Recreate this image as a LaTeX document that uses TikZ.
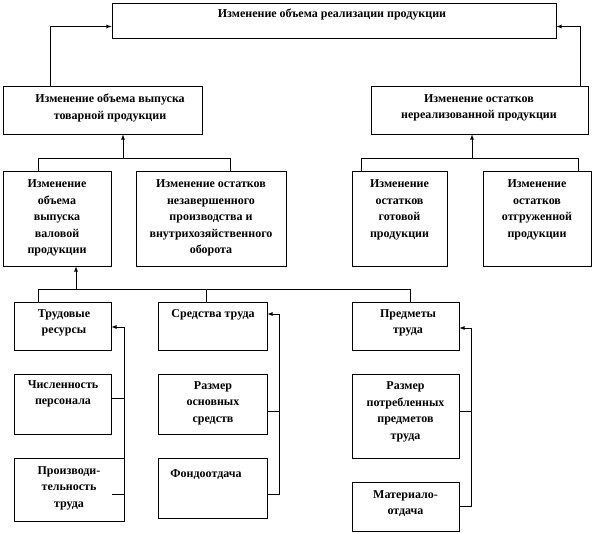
\documentclass[tikz,border=0pt]{standalone}
\usepackage{fontspec}
\setmainfont{Liberation Serif}
\usepackage{tikz}
\usetikzlibrary{arrows}
\usetikzlibrary{positioning}

\begin{document}
\begin{tikzpicture}[x=1pt,y=-1pt,line width=0.8pt,>=latex,
		box/.style={draw,rectangle,inner sep=0pt},
		txt/.style={align=center,inner sep=0pt,font=\fontsize{12}{16.5}\selectfont\bfseries}]
			\useasboundingbox (0,0) rectangle (594,534);
			% boxes
			\node[box,minimum width=444,minimum height=35] (top) at (334,20.5) {};
			\node[box,minimum width=199,minimum height=48] (vyp) at (102.5,110) {};
			\node[box,minimum width=217,minimum height=48] (ost) at (479.5,110) {};
			\node[box,minimum width=108,minimum height=95] (val) at (57,218.5) {};
			\node[box,minimum width=150,minimum height=95] (nez) at (211,218.5) {};
			\node[box,minimum width=95,minimum height=95] (got) at (399.5,218.5) {};
			\node[box,minimum width=108,minimum height=95] (otg) at (537,218.5) {};
			\node[box,minimum width=97,minimum height=48] (tr) at (62.5,326) {};
			\node[box,minimum width=109,minimum height=48] (sr) at (212.5,326) {};
			\node[box,minimum width=107,minimum height=48] (pr) at (405.5,326) {};
			\node[box,minimum width=97,minimum height=60] (chis) at (62.5,404) {};
			\node[box,minimum width=110,minimum height=63] (proizv) at (69,489.5) {};
			\node[box,minimum width=109,minimum height=60] (osn) at (212.5,404) {};
			\node[box,minimum width=109,minimum height=60] (fond) at (212.5,488) {};
			\node[box,minimum width=107,minimum height=84] (potr) at (405.5,416) {};
			\node[box,minimum width=107,minimum height=49] (mat) at (405.5,506.5) {};
			% texts
			\node[txt] (t-top) at (332,15) {Изменение объема реализации продукции};
			\node[txt] (t-vyp) at (110,108) {Изменение объема выпуска\\товарной продукции};
			\node[txt] (t-ost) at (479,108) {Изменение остатков\\нереализованной продукции};
			\node[txt] (t-val) at (57,218) {Изменение\\объема\\выпуска\\валовой\\продукции};
			\node[txt] (t-nez) at (211,218) {Изменение остатков\\незавершенного\\производства и\\внутрихозяйственного\\оборота};
			\node[txt] (t-got) at (399.5,210) {Изменение\\остатков\\готовой\\продукции};
			\node[txt] (t-otg) at (537,210) {Изменение\\остатков\\отгруженной\\продукции};
			\node[txt] (t-tr) at (64,323) {Трудовые\\ресурсы};
			\node[txt] (t-sr) at (213,315) {Средства труда};
			\node[txt] (t-pr) at (408,323) {Предметы\\труда};
			\node[txt] (t-chis) at (63,394) {Численность\\персонала};
			\node[txt] (t-proizv) at (69,488) {Производи-\\тельность\\труда};
			\node[txt] (t-osn) at (213,403) {Размер\\основных\\средств};
			\node[txt] (t-fond) at (206,475) {Фондоотдача};
			\node[txt] (t-potr) at (405.5,412) {Размер\\потребленных\\предметов\\труда};
			\node[txt] (t-mat) at (405.5,503.5) {Материало-\\отдача};
			% connectors
			\draw[->] ([xshift=48pt]vyp.north west) |- ([yshift=-6pt]top.west);
			\draw[->] ([xshift=-8pt]ost.north east) |- ([yshift=-6pt]top.east);
			\coordinate (j-vyp) at (123,159);
			\coordinate (j-ost) at (472,159);
			\coordinate (j-val) at (76,290);
			\draw ([xshift=36pt]val.north west) -- ++(0,-12) -| ([xshift=95pt]nez.north west);
			\draw[->] (j-vyp) -- (j-vyp |- vyp.south);
			\draw ([xshift=10pt]got.north west) -- ++(0,-12) -| ([xshift=96pt]otg.north west);
			\draw[->] (j-ost) -- (j-ost |- ost.south);
			\draw ([xshift=25pt]tr.north west) -- ++(0,-12) -| ([xshift=59pt]pr.north west);
			\draw ([xshift=49pt]sr.north west) -- ++(0,-12);
			\draw[->] (j-val) -- (j-val |- val.south);
			\draw[->] ([yshift=-4.5pt]proizv.east) |- ([yshift=-1pt]tr.east);
			\draw ([yshift=-4.5pt]proizv.east) -- ++(-12,0);
			\draw ([yshift=6pt]chis.east) -- ++(13,0);
			\draw[->] ([yshift=-6pt]fond.east) -- ++(12,0) |- ([yshift=12pt]sr.east);
			\draw ([yshift=-7pt]osn.east) -- ++(12,0);
			\draw[->] (mat.east) -- ++(12,0) |- ([yshift=-2pt]pr.east);
			\draw ([yshift=5pt]potr.east) -- ++(12,0);
\end{tikzpicture}
\end{document}
